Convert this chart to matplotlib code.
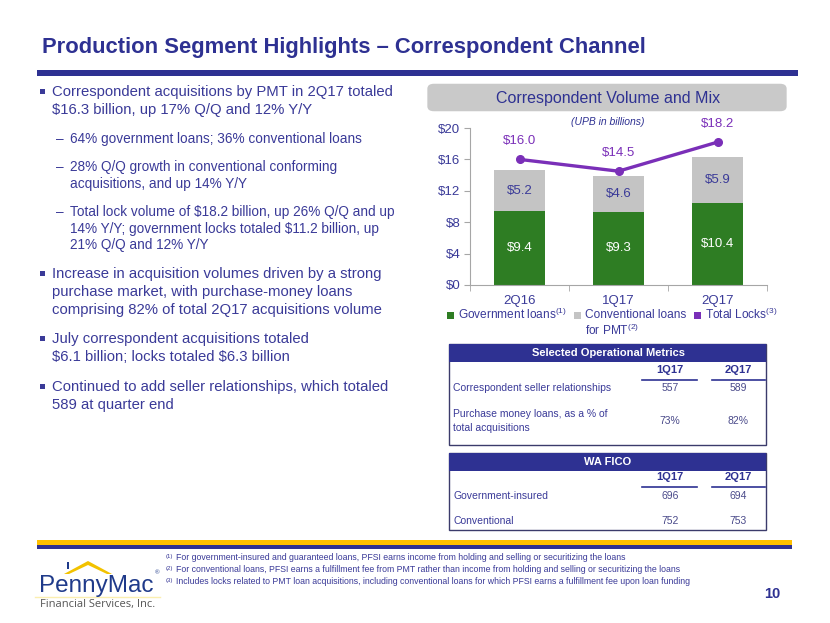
import matplotlib
matplotlib.use('Agg')
import matplotlib.pyplot as plt
from matplotlib.patches import Rectangle, FancyBboxPatch, Polygon
from matplotlib.lines import Line2D

plt.rcParams['font.family'] = ['Liberation Sans', 'DejaVu Sans']
plt.rcParams['mathtext.fontset'] = 'custom'
plt.rcParams['mathtext.rm'] = 'Liberation Sans'
plt.rcParams['mathtext.it'] = 'Liberation Sans:italic'

NAVY = '#2E3192'
TXT = '#3A3A98'
GREEN = '#2E7D23'
GRAY = '#C4C4C4'
PURPLE = '#7A2FB8'
AXC = '#A6A6A6'

# chart data (UPB in billions)
quarters = ['2Q16', '1Q17', '2Q17']
gov_loans = [9.4, 9.3, 10.4]
conv_loans = [5.2, 4.6, 5.9]
total_locks = [16.0, 14.5, 18.2]
yticks = [0, 4, 8, 12, 16, 20]

# table data
metric_cols = ['1Q17', '2Q17']
seller_rel = [557, 589]
purchase_pct = [73, 82]
fico_gov = [696, 694]
fico_conv = [752, 753]

W, H = 830, 623
fig = plt.figure(figsize=(W / 100, H / 100), dpi=100)


def fx(x):
    return x / W


def fy(y):
    return 1 - y / H


def t(x, y, s, **kw):
    kw.setdefault('color', TXT)
    kw.setdefault('va', 'center')
    kw.setdefault('parse_math', False)
    fig.text(fx(x), fy(y), s, **kw)


def rect(x0, y0, x1, y1, **kw):
    fig.patches.append(Rectangle((fx(x0), fy(y1)), fx(x1) - fx(x0), fy(y0) - fy(y1),
                                 transform=fig.transFigure, **kw))


def hline(x0, x1, y, **kw):
    fig.lines.append(Line2D([fx(x0), fx(x1)], [fy(y), fy(y)], transform=fig.transFigure, **kw))


# title and rules
t(42, 47, 'Production Segment Highlights \u2013 Correspondent Channel', fontsize=15.8,
  fontweight='bold', color=NAVY)
rect(37, 70, 798, 75.5, color=NAVY, lw=0)
rect(37, 540, 792, 545, color='#FFC000', lw=0)
rect(37, 545, 792, 549, color=NAVY, lw=0)

# left bullet text
bullets = [
    (92, ['Correspondent acquisitions by PMT in 2Q17 totaled',
          '$16.3 billion, up 17% Q/Q and 12% Y/Y']),
    (274, ['Increase in acquisition volumes driven by a strong',
           'purchase market, with purchase-money loans',
           'comprising 82% of total 2Q17 acquisitions volume']),
    (339, ['July correspondent acquisitions totaled',
           '$6.1 billion; locks totaled $6.3 billion']),
    (387, ['Continued to add seller relationships, which totaled',
           '589 at quarter end']),
]
subs = [
    (139, ['64% government loans; 36% conventional loans']),
    (167, ['28% Q/Q growth in conventional conforming',
           'acquisitions, and up 14% Y/Y']),
    (212, ['Total lock volume of $18.2 billion, up 26% Q/Q and up',
           '14% Y/Y; government locks totaled $11.2 billion, up',
           '21% Q/Q and 12% Y/Y']),
]
for y0, lines in bullets:
    rect(40, y0 - 3, 45, y0 + 2, color=TXT, lw=0)
    for i, s in enumerate(lines):
        t(52, y0 + i * 18, s, fontsize=10.7)
for y0, lines in subs:
    t(56, y0, '\u2013', fontsize=9.8)
    for i, s in enumerate(lines):
        t(70, y0 + i * 16.7, s, fontsize=9.8)

# chart title box
fig.patches.append(FancyBboxPatch((fx(429), fy(110)), fx(356), 25 / H,
                                  boxstyle='round,pad=0.002,rounding_size=0.008',
                                  transform=fig.transFigure, color='#C9C9C9', lw=0))
t(608, 98, 'Correspondent Volume and Mix', fontsize=11.5, color=NAVY, ha='center')
t(608, 122, '(UPB in billions)', fontsize=7.5, color=NAVY, ha='center', style='italic')

# chart
ax = fig.add_axes([fx(470), fy(285), fx(297), 157 / H])
x = list(range(len(quarters)))
ax.bar(x, gov_loans, width=0.525, color=GREEN, zorder=2)
ax.bar(x, conv_loans, width=0.525, bottom=gov_loans, color=GRAY, zorder=2)
ax.plot(x, total_locks, color=PURPLE, lw=2.4, marker='o', ms=5.5, zorder=3)
for i in x:
    ax.text(i, gov_loans[i] / 2, f'${gov_loans[i]:.1f}', ha='center', va='center',
            color='white', fontsize=9.5)
    ax.text(i, gov_loans[i] + conv_loans[i] / 2, f'${conv_loans[i]:.1f}', ha='center',
            va='center', color=TXT, fontsize=9.5)
    ax.annotate(f'${total_locks[i]:.1f}', (i, total_locks[i]), xytext=(0, 9),
                textcoords='offset points', ha='center', va='bottom', color=PURPLE,
                fontsize=9.5, annotation_clip=False)
ax.set_xlim(-0.5, 2.5)
ax.set_ylim(0, 20)
ax.set_yticks(yticks)
ax.set_yticklabels([f'${v}' for v in yticks])
ax.set_xticks(x)
ax.set_xticklabels(quarters)
ax.set_xticks([-0.5, 0.5, 1.5, 2.5], minor=True)
ax.tick_params(axis='x', which='major', length=0, pad=7, labelsize=9.5, labelcolor=TXT)
ax.tick_params(axis='x', which='minor', length=4, color=AXC)
ax.tick_params(axis='y', length=4, color=AXC, labelsize=9.5, labelcolor=TXT, pad=3)
for side in ['top', 'right']:
    ax.spines[side].set_visible(False)
for side in ['left', 'bottom']:
    ax.spines[side].set_color(AXC)
ax.set_facecolor('none')

# legend
leg = [(450, GREEN, 'Government loans$^{(1)}$'),
       (577, GRAY, 'Conventional loans'),
       (697, PURPLE, 'Total Locks$^{(3)}$')]
for lx, c, s in leg:
    rect(lx - 3.5, 311.5, lx + 3.5, 318.5, color=c, lw=0)
    t(lx + 8, 314.5, s, fontsize=8.6, parse_math=True)
t(585, 330, 'for PMT$^{(2)}$', fontsize=8.6, parse_math=True)


# tables
def table(top, hb, bottom, title, head_y, rows):
    rect(449, top, 766, bottom, fill=False, ec='#3B3B6B', lw=1)
    rect(449, top, 766, hb, color=NAVY, lw=0)
    t(608, (top + hb) / 2, title, color='white', fontsize=8, fontweight='bold', ha='center')
    for cx, c, (u0, u1) in zip([670, 738], metric_cols, [(642, 697), (712, 765)]):
        t(cx, head_y, c, fontsize=8, fontweight='bold', color=NAVY, ha='center')
        hline(u0, u1, head_y + 10, color=NAVY, lw=1.2)
    for label_lines, vals, y in rows:
        n = len(label_lines)
        for j, s in enumerate(label_lines):
            t(453, y + (j - (n - 1) / 2) * 14, s, fontsize=7.5)
        for cx, v in zip([670, 738], vals):
            t(cx, y, v, fontsize=7.5, color='#4A4A8A', ha='center')


table(344, 362, 445, 'Selected Operational Metrics', 370,
      [(['Correspondent seller relationships'], [str(v) for v in seller_rel], 388),
       (['Purchase money loans, as a % of', 'total acquisitions'],
        [f'{v}%' for v in purchase_pct], 421)])
table(453, 471, 530, 'WA FICO', 477,
      [(['Government-insured'], [str(v) for v in fico_gov], 496),
       (['Conventional'], [str(v) for v in fico_conv], 521)])

# footnotes
notes = ['For government-insured and guaranteed loans, PFSI earns income from holding and selling or securitizing the loans',
         'For conventional loans, PFSI earns a fulfillment fee from PMT rather than income from holding and selling or securitizing the loans',
         'Includes locks related to PMT loan acquisitions, including conventional loans for which PFSI earns a fulfillment fee upon loan funding']
for i, s in enumerate(notes):
    y = 558 + i * 12
    t(166, y - 1.5, f'({i + 1})', fontsize=4.3)
    t(176, y, s, fontsize=6.3)

# logo
fig.patches.append(Polygon([(fx(64), fy(574)), (fx(88), fy(561)), (fx(112), fy(574)),
                            (fx(107), fy(574)), (fx(88), fy(565)), (fx(69), fy(574))],
                           closed=True, transform=fig.transFigure, color='#F2C200', lw=0))
rect(67, 562, 69, 569, color='#1F3A8A', lw=0)
t(39, 586, 'PennyMac', fontsize=17.5, color='#1F3A8A')
t(155, 573, '\u00ae', fontsize=4.5, color='#1F3A8A')
hline(35, 160, 597, color='#FBEFB0', lw=1)
t(40, 605, 'Financial Services, Inc.', fontsize=8, color='#555555',
  family=['Open Sans', 'Liberation Sans'])

t(772, 594, '10', fontsize=10.5, fontweight='bold', color=NAVY, ha='center')

fig.savefig('out.png', dpi=100)
